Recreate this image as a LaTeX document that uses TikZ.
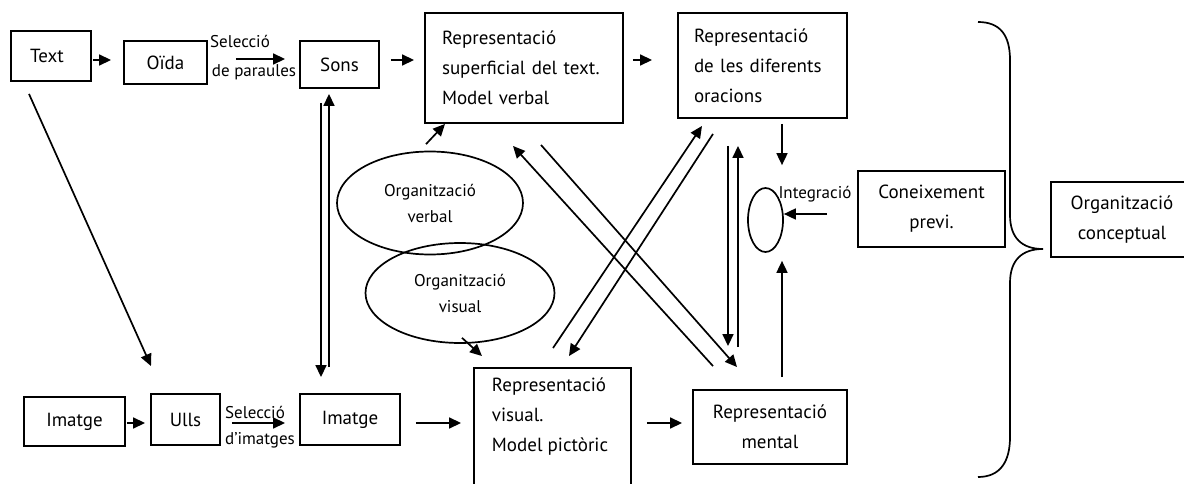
\documentclass[tikz,border=0pt]{standalone}
\usepackage{fontspec}
\setmainfont{PT Sans}
\usetikzlibrary{arrows.meta,calc,shapes.geometric}
\begin{document}
\begin{tikzpicture}[x=1pt,y=-1pt,
  box/.style={draw,line width=1.9pt,inner sep=0pt,font=\fontsize{19}{30}\selectfont,align=center},
  lbox/.style={box,align=left},
  oval/.style={draw,ellipse,line width=1.7pt,inner sep=0pt,font=\fontsize{17}{26}\selectfont,align=center},
  small/.style={inner sep=0pt,font=\fontsize{17}{26}\selectfont},
  arr/.style={line width=1.7pt,-{Triangle[length=12pt,width=11pt]}},
  ln/.style={line width=1.7pt}]
\useasboundingbox (0,0) rectangle (1184,484);
\clip (0,0) rectangle (1184,484);
% boxes
\node[box,minimum width=80,minimum height=50] (text) at (51,56) {Text\hspace*{8pt}};
\node[box,minimum width=83,minimum height=43] (oida) at (165.5,62.5) {Oïda};
\node[box,minimum width=79,minimum height=47] (sons) at (339.5,64.5) {Sons};
\node[lbox,minimum width=198,minimum height=110,text width=164] (rs) at (524,68) {Representació\\superficial del text.\\Model verbal};
\node[lbox,minimum width=169,minimum height=105,text width=137] (rd) at (762.5,65.5) {Representació\\de les diferents\\oracions};
\node[oval,minimum width=186,minimum height=103] (ov) at (430,203) {Organització\\verbal};
\node[oval,minimum width=189,minimum height=100] (ovis) at (460,293) {Organització\\visual};
\node[draw,ellipse,line width=1.7pt,minimum width=35,minimum height=64,inner sep=0pt] (integ) at (765.5,220) {};
\node[small,anchor=base] (integl) at (815,198) {Integració};
\node[box,minimum width=147,minimum height=76] (cp) at (931.5,209) {Coneixement\\previ.};
\node[box,minimum width=142,minimum height=75] (oc) at (1122,219.5) {Organització\\conceptual};
\node[box,minimum width=101,minimum height=49] (img1) at (74.5,421.5) {Imatge};
\node[box,minimum width=69,minimum height=51] (ulls) at (185.5,419.5) {Ulls};
\node[box,minimum width=100,minimum height=51] (img2) at (350,419.5) {Imatge};
\node[box,minimum width=157,minimum height=124] (rv) at (552.5,430) {};
\node[lbox,anchor=north west,draw=none] (rvt) at (491,377) {Representació\\visual.\\Model pictòric};
\node[box,minimum width=154,minimum height=74] (rm) at (770,427) {Representació\\mental};
% labels
\node[small,anchor=base] (sel1) at (240,48) {Selecció};
\node[small,anchor=base] (par) at (254,77) {de paraules};
\node[small,anchor=base] (sel2) at (255,418) {Selecció};
\node[small,anchor=base] (dim) at (260,444) {d’imatges};
% top row
\draw[arr] ($(text.east)+(1,4)$) -- ($(oida.west)+(-12,-2.5)$);
\draw[arr] ($(oida.east)+(28,-3.5)$) -- ($(sons.west)+(-14,-5.5)$);
\draw[arr] ($(sons.east)+(11,-4.5)$) -- ($(rs.west)+(-10,-8)$);
\draw[arr] ($(rs.east)+(9,-8)$) -- ($(rd.west)+(-25,-5.5)$);
\draw[arr] ($(ov.north)+(-4,-6.5)$) -- ($(rs.south)+(-79,0)$);
% Sons <-> Imatge
\draw[arr] ($(sons.south)+(-18.5,14)$) -- ($(img2.north)+(-29,-16)$);
\draw[arr] ($(img2.north)+(-21,-26)$) -- ($(sons.south)+(-10.5,5)$);
% diagonal Text -> Ulls
\draw[arr] ($(text.south)+(-22,12)$) -- ($(ulls.north)+(-34.5,-27)$);
% bottom row
\draw[arr] ($(img1.east)+(1,1.5)$) -- ($(ulls.west)+(-5,3.5)$);
\draw[arr] ($(ulls.east)+(11,3.5)$) -- ($(img2.west)+(-14,3.5)$);
\draw[arr] ($(img2.east)+(15,3.5)$) -- ($(rv.west)+(-12,-7)$);
\draw[arr] ($(ovis.south)+(2,-6)$) -- ($(rv.north)+(-70.5,-11)$);
\draw[arr] ($(rv.east)+(15,-7)$) -- ($(rm.west)+(-10,-4)$);
% crossing arrows
\draw[arr] ($(rd.south)+(-49.5,15)$) -- ($(rv.north)+(16.5,-11)$);
\draw[arr] ($(rv.north)+(0.5,-19)$) -- ($(rd.south)+(-60.5,7)$);
\draw[arr] ($(rm.north)+(-57,-23)$) -- ($(rs.south)+(-11,22)$);
\draw[arr] ($(rs.south)+(17,21)$) -- ($(rm.north)+(-33,-22)$);
% vertical doubles
\draw[arr] ($(rd.south)+(-34.5,27)$) -- ($(rm.north)+(-42,-43)$);
\draw[arr] ($(rm.north)+(-32,-42)$) -- ($(rd.south)+(-24.5,27)$);
% integration
\draw[arr] ($(rd.south)+(19.5,5)$) -- ($(integ.north)+(16.5,-22)$);
\draw[arr] ($(cp.west)+(-30,5)$) -- ($(integ.east)+(0,-6)$);
\draw[arr] ($(rm.north)+(12,-12)$) -- ($(integ.south)+(16.5,8)$);
% brace
\draw[ln] (978,22) .. controls (1000,22) and (1010,35) .. (1010,60)
  -- (1010,215) .. controls (1010,238) and (1022,249) .. (1043,249)
  .. controls (1022,249) and (1010,260) .. (1010,283)
  -- (1010,437) .. controls (1010,462) and (1000,477) .. (978,477);
\end{tikzpicture}
\end{document}
